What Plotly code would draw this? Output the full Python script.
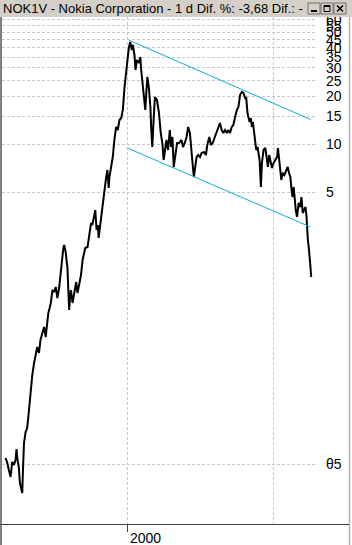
import plotly.graph_objects as go

# ---- data (decimal year, price) ----
years = [1991.63, 1991.74, 1991.86, 1991.98, 1992.09, 1992.21, 1992.32, 1992.39, 1992.43, 1992.55,
         1992.62, 1992.71, 1992.78, 1992.83, 1992.90, 1993.01, 1993.12, 1993.21, 1993.29, 1993.36,
         1993.47, 1993.59, 1993.69, 1993.81, 1993.93, 1994.03, 1994.16, 1994.28, 1994.39, 1994.48,
         1994.57, 1994.66, 1994.74, 1994.85, 1994.97, 1995.08, 1995.19, 1995.31, 1995.43, 1995.54,
         1995.60, 1995.66, 1995.77, 1995.83, 1995.88, 1995.94, 1996.00, 1996.07, 1996.12, 1996.23,
         1996.31, 1996.41, 1996.48, 1996.57, 1996.69, 1996.81, 1996.92, 1997.00, 1997.10, 1997.26,
         1997.38, 1997.50, 1997.59, 1997.66, 1997.72, 1997.79, 1997.88, 1997.97, 1998.02, 1998.10,
         1998.19, 1998.30, 1998.41, 1998.53, 1998.62, 1998.71, 1998.76, 1998.88, 1998.99, 1999.10,
         1999.22, 1999.33, 1999.45, 1999.57, 1999.68, 1999.79, 1999.91, 2000.02, 2000.09, 2000.19,
         2000.24, 2000.30, 2000.37, 2000.48, 2000.55, 2000.64, 2000.78, 2000.88, 2000.94, 2001.01,
         2001.10, 2001.22, 2001.29, 2001.36, 2001.47, 2001.57, 2001.63, 2001.70, 2001.79, 2001.88,
         2002.02, 2002.16, 2002.28, 2002.39, 2002.48, 2002.57, 2002.67, 2002.78, 2002.90, 2002.99,
         2003.08, 2003.17, 2003.31, 2003.40, 2003.54, 2003.70, 2003.81, 2003.93, 2004.05, 2004.16,
         2004.28, 2004.39, 2004.46, 2004.55, 2004.67, 2004.74, 2004.85, 2004.97, 2005.08, 2005.24,
         2005.38, 2005.47, 2005.61, 2005.72, 2005.84, 2006.00, 2006.12, 2006.23, 2006.34, 2006.46,
         2006.57, 2006.69, 2006.81, 2006.92, 2007.03, 2007.15, 2007.26, 2007.38, 2007.50, 2007.61,
         2007.72, 2007.84, 2007.95, 2008.07, 2008.14, 2008.23, 2008.30, 2008.37, 2008.46, 2008.53,
         2008.60, 2008.69, 2008.76, 2008.83, 2008.92, 2008.99, 2009.06, 2009.15, 2009.22, 2009.33,
         2009.45, 2009.57, 2009.63, 2009.72, 2009.79, 2009.91, 2010.02, 2010.14, 2010.26, 2010.32,
         2010.39, 2010.48, 2010.55, 2010.64, 2010.76, 2010.90, 2010.99, 2011.08, 2011.17, 2011.24,
         2011.31, 2011.40, 2011.47, 2011.54, 2011.63, 2011.74, 2011.86, 2011.93, 2012.02, 2012.12,
         2012.21, 2012.28, 2012.32, 2012.37, 2012.43, 2012.48, 2012.55, 2012.60]

prices = [0.1095, 0.1034, 0.0921, 0.0833, 0.1034, 0.0990, 0.1064, 0.1246, 0.1111, 0.0948,
          0.0764, 0.0691, 0.0662, 0.0921, 0.1358, 0.1591, 0.1686, 0.2032, 0.2523, 0.2831,
          0.3615, 0.4297, 0.4820, 0.5408, 0.4962, 0.5981, 0.6615, 0.7211, 0.6248, 0.7749,
          0.8822, 0.9482, 1.019, 1.228, 1.194, 1.283, 1.095, 1.264, 1.569, 2.092,
          2.248, 2.347, 2.092, 1.838, 1.711, 1.228, 0.921, 1.143, 1.228, 1.019,
          1.143, 1.283, 1.378, 1.177, 1.359, 1.524, 1.891, 2.033, 2.248, 2.281,
          2.634, 3.222, 3.130, 3.462, 3.615, 3.885, 2.913, 3.130, 2.597, 2.999,
          3.512, 4.056, 4.821, 6.158, 6.910, 5.333, 6.246, 7.424, 8.330, 10.64,
          12.83, 12.29, 14.19, 14.60, 16.39, 22.48, 29.13, 33.65, 40.0, 43.6,
          40.6, 38.85, 41.75, 36.15, 29.13, 33.65, 32.22, 35.12, 29.13, 25.23,
          19.75, 16.39, 20.92, 26.34, 22.48, 17.11, 12.29, 9.619, 14.19, 19.75,
          18.92, 15.69, 11.77, 10.19, 7.979, 9.619, 10.64, 9.213, 12.29, 9.619,
          11.11, 7.213, 9.213, 10.19, 10.19, 10.64, 9.619, 10.19, 11.11, 12.83,
          11.77, 8.330, 7.640, 6.246, 7.640, 8.330, 8.573, 8.330, 8.823, 8.951,
          8.573, 9.899, 11.11, 9.899, 10.19, 11.11, 11.77, 12.83, 13.59, 12.29,
          11.77, 12.29, 11.77, 12.29, 11.77, 12.83, 13.20, 14.81, 16.39, 17.11,
          20.33, 21.23, 20.92, 19.47, 19.75, 15.69, 14.60, 13.78, 14.60, 12.83,
          13.78, 11.94, 10.64, 9.213, 9.619, 8.823, 7.979, 5.409, 7.640, 9.213,
          9.482, 7.979, 7.213, 8.573, 7.979, 7.110, 7.640, 7.979, 8.330, 9.482,
          7.979, 7.213, 5.982, 6.616, 6.429, 6.910, 7.213, 6.616, 6.246, 5.333,
          4.684, 5.409, 4.486, 3.885, 3.512, 4.298, 4.056, 4.684, 3.721, 3.885,
          4.056, 3.512, 2.913, 2.523, 2.281, 2.092, 1.711, 1.481]

if len(years) != len(prices):
    raise SystemExit("length mismatch %d %d" % (len(years), len(prices)))

# trend channel lines (start, end)
upper_x = [2000.07, 2012.55]
upper_y = [44.9, 14.3]
lower_x = [2000.0, 2012.55]
lower_y = [9.48, 3.04]

# axis ticks
y_tickvals = [0.1, 5, 10, 15, 20, 25, 30, 35, 40, 45, 50, 55, 60]
y_ticktext = ["θ5", "5", "10", "15", "20", "25", "30", "35", "40", "45", "50", "55", "60"]
x_gridvals = [2000, 2010]
x_label = "2000"
title_text = "NOK1V - Nokia Corporation - 1 d Dif. %: -3,68 Dif.: -"

# ---- layout geometry (pixels) ----
W, H = 352, 545
ML, MR, MT, MB = 2, 36, 17, 21
PW = W - ML - MR
PH = H - MT - MB


def px(x):
    return (x - ML) / PW


def py(y):
    return (H - MB - y) / PH


FONT = "Liberation Sans, Arial, sans-serif"
GRID = "#c8c8c8"
FACE = "#d4d0c8"

fig = go.Figure()
fig.add_trace(go.Scatter(x=years, y=prices, mode="lines",
                         line=dict(color="black", width=2), hoverinfo="skip"))
fig.add_trace(go.Scatter(x=upper_x, y=upper_y, mode="lines",
                         line=dict(color="#12a9e0", width=1), hoverinfo="skip"))
fig.add_trace(go.Scatter(x=lower_x, y=lower_y, mode="lines",
                         line=dict(color="#12a9e0", width=1), hoverinfo="skip"))

shapes = []
# title bar
shapes.append(dict(type="rect", xref="paper", yref="paper", x0=px(0), x1=px(W), y0=py(17), y1=py(0),
                   fillcolor=FACE, line=dict(width=0), layer="above"))
# window buttons
for bx in (308, 321, 334):
    shapes.append(dict(type="rect", xref="paper", yref="paper", x0=px(bx), x1=px(bx + 12),
                       y0=py(14), y1=py(3), fillcolor=FACE, line=dict(color="#707070", width=1), layer="above"))
# minimize glyph
shapes.append(dict(type="line", xref="paper", yref="paper", x0=px(311), x1=px(317), y0=py(11), y1=py(11),
                   line=dict(color="black", width=2), layer="above"))
# maximize glyph
shapes.append(dict(type="rect", xref="paper", yref="paper", x0=px(324), x1=px(330), y0=py(11.5), y1=py(5.5),
                   line=dict(color="black", width=1), layer="above"))
shapes.append(dict(type="line", xref="paper", yref="paper", x0=px(324), x1=px(330), y0=py(6), y1=py(6),
                   line=dict(color="black", width=2), layer="above"))
# close glyph
shapes.append(dict(type="line", xref="paper", yref="paper", x0=px(337), x1=px(343), y0=py(5.5), y1=py(11.5),
                   line=dict(color="black", width=1.6), layer="above"))
shapes.append(dict(type="line", xref="paper", yref="paper", x0=px(337), x1=px(343), y0=py(11.5), y1=py(5.5),
                   line=dict(color="black", width=1.6), layer="above"))
# left border
shapes.append(dict(type="rect", xref="paper", yref="paper", x0=px(0), x1=px(2), y0=py(H), y1=py(17),
                   fillcolor="#808078", line=dict(width=0), layer="above"))
# right border
shapes.append(dict(type="line", xref="paper", yref="paper", x0=px(349.5), x1=px(349.5), y0=py(H), y1=py(17),
                   line=dict(color="#b4b4b4", width=1.5), layer="above"))
# bottom axis line
shapes.append(dict(type="line", xref="paper", yref="paper", x0=px(0), x1=px(349), y0=py(524.5), y1=py(524.5),
                   line=dict(color="#404040", width=1), layer="above"))
# tick at 2000
shapes.append(dict(type="line", xref="x", yref="paper", x0=x_gridvals[0], x1=x_gridvals[0],
                   y0=py(524.5), y1=py(532), line=dict(color="#404040", width=1), layer="above"))

annotations = [
    dict(text=title_text, xref="paper", yref="paper", x=px(1), y=py(8.5), xanchor="left", yanchor="middle",
         showarrow=False, font=dict(family=FONT, size=13, color="black")),
    dict(text=x_label, xref="x", yref="paper", x=x_gridvals[0], y=py(538), xanchor="left", yanchor="middle",
         xshift=0, showarrow=False, font=dict(family=FONT, size=14, color="black")),
]

fig.update_layout(
    width=W, height=H, margin=dict(l=ML, r=MR, t=MT, b=MB, pad=0),
    paper_bgcolor="white", plot_bgcolor="white", showlegend=False,
    shapes=shapes, annotations=annotations,
    xaxis=dict(range=[1991.392, 2012.929], tickmode="array", tickvals=x_gridvals, showticklabels=False,
               ticks="", showgrid=True, gridcolor=GRID, griddash="3px,2px", gridwidth=1,
               zeroline=False, showline=False, fixedrange=True),
    yaxis=dict(type="log", range=[-1.3731, 1.7956], side="right", tickmode="array",
               tickvals=y_tickvals, ticktext=y_ticktext, ticks="", ticklabelstandoff=9,
               tickfont=dict(family=FONT, size=14, color="black"),
               showgrid=True, gridcolor=GRID, griddash="3px,2px", gridwidth=1,
               zeroline=False, showline=False, fixedrange=True),
)

fig.write_html("out.html")
